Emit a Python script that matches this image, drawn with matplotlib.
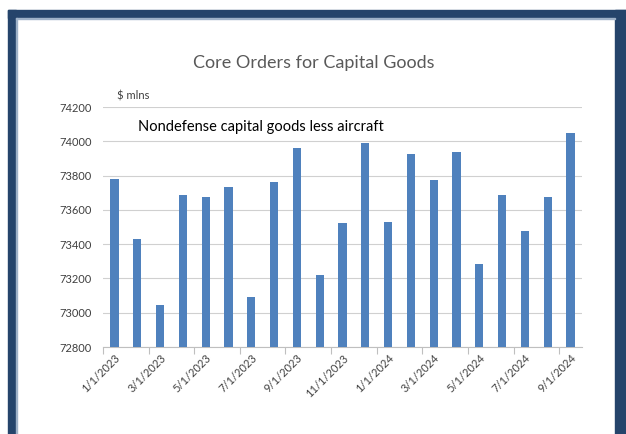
import numpy as np
import matplotlib.pyplot as plt
from matplotlib.patches import Rectangle

months = ["1/1/2023", "2/1/2023", "3/1/2023", "4/1/2023", "5/1/2023", "6/1/2023",
          "7/1/2023", "8/1/2023", "9/1/2023", "10/1/2023", "11/1/2023", "12/1/2023",
          "1/1/2024", "2/1/2024", "3/1/2024", "4/1/2024", "5/1/2024", "6/1/2024",
          "7/1/2024", "8/1/2024", "9/1/2024"]
orders = [73780, 73429, 73043, 73685, 73673, 73735, 73093, 73761, 73963, 73220,
          73521, 73988, 73527, 73926, 73774, 73937, 73284, 73685, 73477, 73673, 74050]
yticks = [72800, 73000, 73200, 73400, 73600, 73800, 74000, 74200]

W, H = 626, 434
fig = plt.figure(figsize=(W / 100, H / 100), dpi=100)
plt.rcParams['font.family'] = ['Lato', 'DejaVu Sans']

# dark blue frame, given in pixel coords from top-left
navy = '#25446b'
def px_rect(x0, y0, x1, y1, **kw):
    fig.patches.append(Rectangle((x0 / W, 1 - y1 / H), (x1 - x0) / W, (y1 - y0) / H,
                                 transform=fig.transFigure, **kw))
px_rect(8, 10, 626, 18, color=navy)
px_rect(8, 10, 16, 434, color=navy)
px_rect(615, 10, 626, 434, color=navy)
px_rect(16, 18, 615, 19, color='#9fb2c8')
px_rect(16, 18, 17, 434, color='#9fb2c8')

ax = fig.add_axes([103 / W, 1 - 347 / H, (582 - 103) / W, (347 - 107) / H])
x = np.arange(len(months))
ax.bar(x, orders, width=0.36, color='#4f81bd', zorder=3)

ax.set_xlim(-0.5, len(months) - 0.5)
ax.set_ylim(72800, 74200)
ax.set_yticks(yticks)
ax.set_yticklabels([str(v) for v in yticks], fontsize=8, color='#404040')
ax.yaxis.grid(True, color='#d0d0d0', linewidth=0.8, zorder=0)
ax.tick_params(axis='y', length=0, pad=8)

ax.set_xticks(x[::2])
ax.set_xticklabels(months[::2], rotation=45, ha='right', rotation_mode='anchor',
                   fontsize=8, color='#404040')
ax.tick_params(axis='x', length=0, pad=4)
ax.set_xticks(np.arange(-0.5, len(months), 2), minor=True)
ax.tick_params(axis='x', which='minor', length=5, color='#bfbfbf', width=0.8)

for s in ['top', 'right', 'left']:
    ax.spines[s].set_visible(False)
ax.spines['bottom'].set_color('#bfbfbf')

fig.text(314 / W, 1 - 63 / H, "Core Orders for Capital Goods", ha='center', va='center',
         fontsize=13, color='#595959')
fig.text(117 / W, 1 - 96 / H, "$ mlns", ha='left', va='center', fontsize=8, color='#404040')
fig.text(138 / W, 1 - 127 / H, "Nondefense capital goods less aircraft", ha='left',
         va='center', fontsize=10.5, color='black')

fig.savefig("out.png", dpi=100, facecolor='white')
